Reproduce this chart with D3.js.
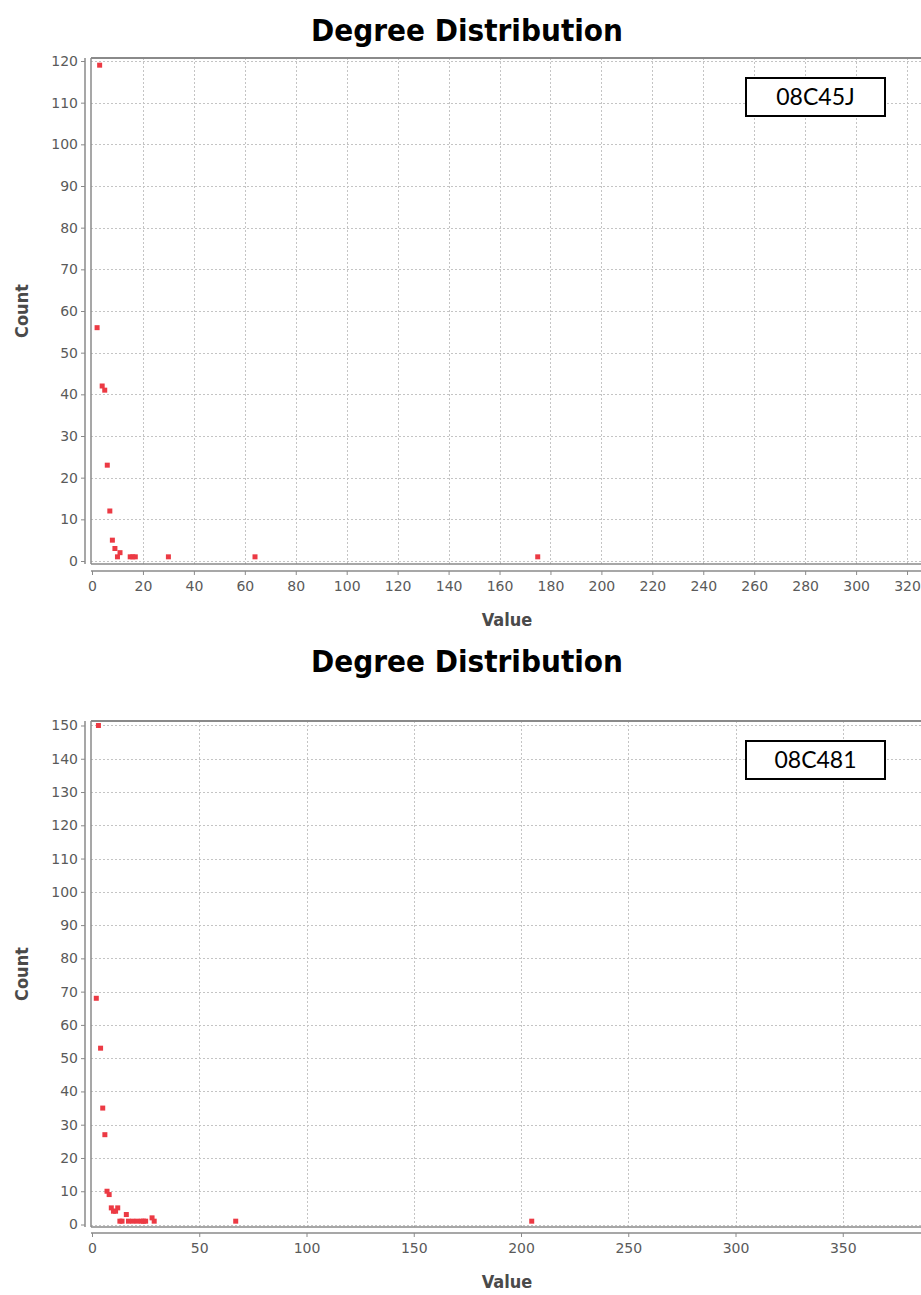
<!DOCTYPE html>
<html>
<head>
<meta charset="utf-8">
<script src="https://cdn.jsdelivr.net/npm/d3@7"></script>
<style>
  html, body { margin: 0; padding: 0; background: #fff; }
  svg { display: block; }
</style>
</head>
<body>
<svg id="chart" width="921" height="1295"></svg>
<script>
// ---- Data ----
const chartTitle = "Degree Distribution";
const xLabel = "Value";
const yLabel = "Count";

// Chart 1: 08C45J
const label1 = "08C45J";
const values1 = [2, 3, 4, 5, 6, 7, 8, 9, 10, 11, 15, 16, 17, 30, 64, 175];
const counts1 = [56, 119, 42, 41, 23, 12, 5, 3, 1, 2, 1, 1, 1, 1, 1, 1];
const xTicks1 = [0, 20, 40, 60, 80, 100, 120, 140, 160, 180, 200, 220, 240, 260, 280, 300, 320];
const yTicks1 = [0, 10, 20, 30, 40, 50, 60, 70, 80, 90, 100, 110, 120];

// Chart 2: 08C481
const label2 = "08C481";
const values2 = [2, 3, 4, 5, 6, 7, 8, 9, 10, 11, 12, 13, 14, 16, 17, 19, 21, 23, 24, 25, 28, 29, 67, 205];
const counts2 = [68, 150, 53, 35, 27, 10, 9, 5, 4, 4, 5, 1, 1, 3, 1, 1, 1, 1, 1, 1, 2, 1, 1, 1];
const xTicks2 = [0, 50, 100, 150, 200, 250, 300, 350];
const yTicks2 = [0, 10, 20, 30, 40, 50, 60, 70, 80, 90, 100, 110, 120, 130, 140, 150];

// ---- Drawing ----
const svg = d3.select("#chart");
const condFont = "'DejaVu Sans Condensed', 'DejaVu Sans', sans-serif";
const tickFont = "'DejaVu Sans', sans-serif";

function drawChart(cfg) {
  const g = svg.append("g");
  const { plot } = cfg;
  const x = d3.scaleLinear().domain(cfg.xDomain).range([plot.left, plot.right]);
  const y = d3.scaleLinear().domain(cfg.yDomain).range([plot.bottom, plot.top]);

  // title
  g.append("text")
    .attr("x", 467).attr("y", cfg.titleY)
    .attr("text-anchor", "middle")
    .attr("font-family", condFont)
    .attr("font-stretch", "condensed")
    .attr("font-weight", "bold")
    .attr("font-size", 30)
    .attr("textLength", 312)
    .attr("lengthAdjust", "spacingAndGlyphs")
    .attr("fill", "#000")
    .text(chartTitle);

  // plot background
  g.append("rect")
    .attr("x", plot.left).attr("y", plot.top)
    .attr("width", plot.right - plot.left).attr("height", plot.bottom - plot.top)
    .attr("fill", "#fff");

  // gridlines
  const grid = g.append("g").attr("stroke", "#c4c4c4").attr("stroke-width", 1)
    .attr("stroke-dasharray", "2,2").attr("shape-rendering", "crispEdges");
  grid.selectAll(".vg").data(cfg.xTicks.filter(t => t > 0)).join("line")
    .attr("x1", d => Math.round(x(d)) + 0.5).attr("x2", d => Math.round(x(d)) + 0.5)
    .attr("y1", plot.top).attr("y2", plot.bottom);
  grid.selectAll(".hg").data(cfg.yTicks).join("line")
    .attr("x1", plot.left).attr("x2", plot.right)
    .attr("y1", d => Math.round(y(d)) + 0.5).attr("y2", d => Math.round(y(d)) + 0.5);

  // plot border
  g.append("line").attr("x1", plot.left).attr("x2", plot.right)
    .attr("y1", plot.top).attr("y2", plot.top)
    .attr("stroke", "#8a8a8a").attr("stroke-width", 2);
  g.append("line").attr("x1", plot.left).attr("x2", plot.left)
    .attr("y1", plot.top).attr("y2", plot.bottom)
    .attr("stroke", "#8a8a8a").attr("stroke-width", 1.5);
  g.append("line").attr("x1", plot.left).attr("x2", plot.right)
    .attr("y1", plot.bottom).attr("y2", plot.bottom)
    .attr("stroke", "#8a8a8a").attr("stroke-width", 1.5);

  // axes
  const yAxis = d3.axisLeft(y).tickValues(cfg.yTicks).tickSize(4).tickPadding(3).tickFormat(d3.format("d"));
  const ya = g.append("g").attr("transform", `translate(${cfg.yAxisX},0)`).call(yAxis);
  ya.select(".domain").attr("d", `M0,${plot.top}V${plot.bottom}`).attr("stroke", "#8a8a8a").attr("stroke-width", 1.5);
  ya.selectAll(".tick line").attr("stroke", "#8a8a8a");
  ya.selectAll(".tick text").attr("font-family", tickFont)
    .attr("font-size", 14).attr("fill", "#5a5a5a");

  const xAxis = d3.axisBottom(x).tickValues(cfg.xTicks).tickSize(4).tickPadding(6).tickFormat(d3.format("d"));
  const xa = g.append("g").attr("transform", `translate(0,${cfg.xAxisY})`).call(xAxis);
  xa.select(".domain").attr("d", `M${plot.left},0H${plot.right}`).attr("stroke", "#8a8a8a").attr("stroke-width", 1.5);
  xa.selectAll(".tick line").attr("stroke", "#8a8a8a");
  xa.selectAll(".tick text").attr("font-family", tickFont)
    .attr("font-size", 14).attr("fill", "#5a5a5a");

  // axis labels
  g.append("text")
    .attr("x", 507).attr("y", cfg.xLabelY)
    .attr("text-anchor", "middle")
    .attr("font-family", condFont).attr("font-stretch", "condensed")
    .attr("font-weight", "bold").attr("font-size", 18).attr("fill", "#4a4a4a")
    .text(xLabel);
  g.append("text")
    .attr("transform", `translate(28,${(plot.top + plot.bottom) / 2}) rotate(-90)`)
    .attr("text-anchor", "middle")
    .attr("font-family", condFont).attr("font-stretch", "condensed")
    .attr("font-weight", "bold").attr("font-size", 18).attr("fill", "#4a4a4a")
    .text(yLabel);

  // points
  const pts = cfg.values.map((v, i) => ({ v, c: cfg.counts[i] }));
  g.append("g").selectAll("rect").data(pts).join("rect")
    .attr("x", d => x(d.v) - 2.5).attr("y", d => y(d.c) - 2.5)
    .attr("width", 5).attr("height", 5)
    .attr("fill", "#ec3a44");

  // label box
  g.append("rect")
    .attr("x", 746).attr("y", cfg.boxY).attr("width", 139).attr("height", 38)
    .attr("fill", "#fff").attr("stroke", "#000").attr("stroke-width", 2);
  g.append("text")
    .attr("x", 815.5).attr("y", cfg.boxY + 27)
    .attr("text-anchor", "middle")
    .attr("font-family", "Lato, 'Open Sans', sans-serif")
    .attr("font-size", 23).attr("fill", "#000")
    .text(cfg.label);
}

drawChart({
  plot: { left: 91, right: 935, top: 58, bottom: 564 },
  xDomain: [0 - 1 / 2.547, (935 - 91) / 2.547 - 1 / 2.547],
  yDomain: [-0.72, 120.72],
  yAxisX: 85, xAxisY: 571,
  xTicks: xTicks1, yTicks: yTicks1,
  values: values1, counts: counts1,
  titleY: 41, xLabelY: 626, boxY: 78, label: label1
});

drawChart({
  plot: { left: 91, right: 935, top: 721, bottom: 1227 },
  xDomain: [-1 / 2.145, (935 - 91) / 2.145 - 1 / 2.145],
  yDomain: [-0.75, 151.35],
  yAxisX: 85, xAxisY: 1233,
  xTicks: xTicks2, yTicks: yTicks2,
  values: values2, counts: counts2,
  titleY: 672, xLabelY: 1288, boxY: 741, label: label2
});
</script>
</body>
</html>
